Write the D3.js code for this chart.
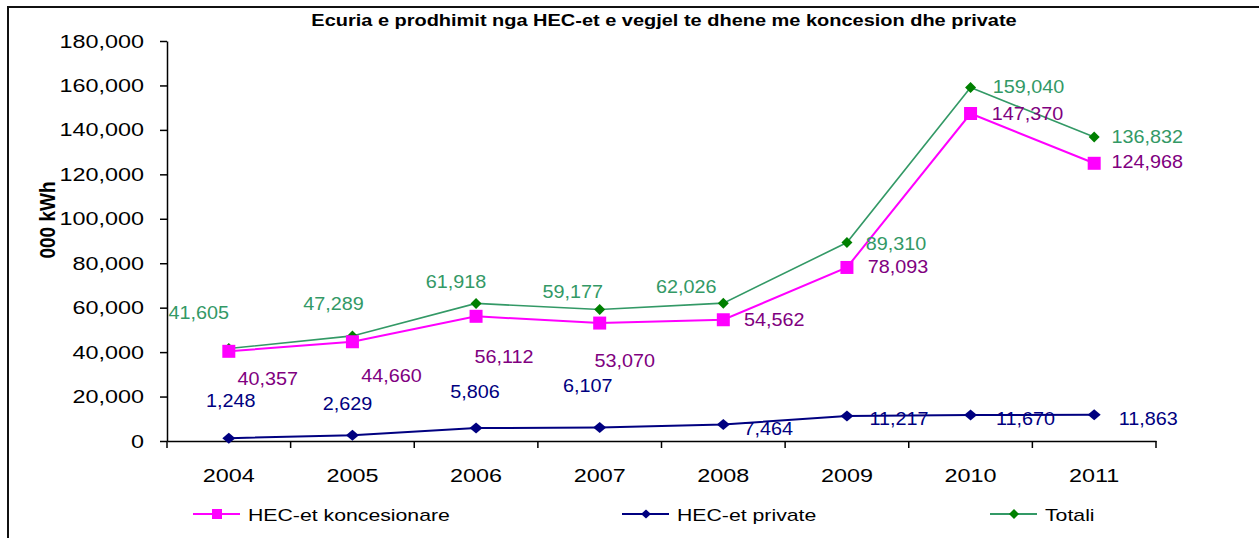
<!DOCTYPE html>
<html>
<head>
<meta charset="utf-8">
<script src="https://cdn.jsdelivr.net/npm/d3@7"></script>
<style>
  body { margin: 0; background: #fff; }
  svg { display: block; font-family: "Liberation Sans", Arial, sans-serif; }
</style>
</head>
<body>
<svg id="vis" width="1259" height="538"></svg>
<script>
// data
const years = ["2004", "2005", "2006", "2007", "2008", "2009", "2010", "2011"];
const koncesionare = [40357, 44660, 56112, 53070, 54562, 78093, 147370, 124968];
const privateHec = [1248, 2629, 5806, 6107, 7464, 11217, 11670, 11863];
const totali = [41605, 47289, 61918, 59177, 62026, 89310, 159040, 136832];
const seriesNames = ["HEC-et koncesionare", "HEC-et private", "Totali"];
const yTicks = [0, 20000, 40000, 60000, 80000, 100000, 120000, 140000, 160000, 180000];

// label offsets from the point (hand placed like in the original)
const konLabelOff = [[39, 34], [39, 40], [28, 47], [25, 44], [51, 6], [51, 6], [57, 6], [53, 5]];
const privLabelOff = [[2, -31], [-5, -25], [-1, -30], [-12, -35], [45, 11], [52, 9], [55, 10], [54, 10]];
const totLabelOff = [[-30, -30], [-19, -26], [-20, -15], [-27, -11], [-37, -10], [49, 7], [58, 5], [53, 6]];

const svg = d3.select("#vis");
const fmt = d3.format(",");

// scales
const x = d3.scaleBand().domain(years).range([167, 1156]).padding(0);
const y = d3.scaleLinear().domain([0, 180000]).range([441, 41]);
const cx = d => x(d) + x.bandwidth() / 2;

// outer frame
svg.append("rect")
  .attr("x", 8).attr("y", 7)
  .attr("width", 1300).attr("height", 600)
  .attr("fill", "none")
  .attr("stroke", "#111")
  .attr("stroke-width", 2);

// title
const title = svg.append("text")
  .attr("font-weight", "bold")
  .attr("font-size", 17)
  .attr("text-anchor", "middle")
  .text("Ecuria e prodhimit nga HEC-et e vegjel te dhene me koncesion dhe private");
const tw = title.node().getComputedTextLength();
title.attr("transform", `translate(664,26) scale(${706 / tw},1)`);

// y axis
const yAxis = svg.append("g")
  .attr("transform", "translate(167,0)")
  .call(d3.axisLeft(y).tickValues(yTicks).tickFormat(fmt).tickSize(7).tickSizeOuter(0));
yAxis.select(".domain").attr("stroke", "#000").attr("stroke-width", 1.5);
yAxis.selectAll(".tick line").attr("stroke", "#000").attr("stroke-width", 1.5);
yAxis.selectAll(".tick text")
  .attr("x", 0)
  .attr("font-size", 19)
  .attr("fill", "#000")
  .attr("font-family", "'Liberation Sans', Arial, sans-serif")
  .attr("transform", "translate(-23,0) scale(1.23,1)");

// y axis title
svg.append("text")
  .attr("transform", "translate(55,220) scale(1.2,1) rotate(-90)")
  .attr("text-anchor", "middle")
  .attr("font-weight", "bold")
  .attr("font-size", 19)
  .text("000 kWh");

// x axis
const xAxis = svg.append("g")
  .attr("transform", "translate(0,441)")
  .call(d3.axisBottom(x).tickSize(0).tickSizeOuter(0));
xAxis.select(".domain").attr("stroke", "#000").attr("stroke-width", 1.5);
xAxis.selectAll(".tick text")
  .attr("y", 0).attr("dy", 0)
  .attr("font-size", 19)
  .attr("fill", "#000")
  .attr("font-family", "'Liberation Sans', Arial, sans-serif")
  .attr("transform", "translate(0,41) scale(1.23,1)");

// boundary ticks
const bounds = years.map(d => x(d)).concat([x.range()[1]]);
svg.append("g").selectAll("line")
  .data(bounds)
  .join("line")
  .attr("x1", d => d).attr("x2", d => d)
  .attr("y1", 441).attr("y2", 448)
  .attr("stroke", "#000").attr("stroke-width", 1.5);

// marker shapes
const diamond = (w, h) => `M0,${-h}L${w},0L0,${h}L${-w},0Z`;
const square = (w, h) => `M${-w},${-h}H${w}V${h}H${-w}Z`;

const series = [
  { values: totali, line: "#339966", lw: 1.6, mark: "#008000", shape: diamond(5.5, 5.5), lab: "#339966", off: totLabelOff },
  { values: koncesionare, line: "#ff00ff", lw: 2, mark: "#ff00ff", shape: square(6.5, 6.5), lab: "#800080", off: konLabelOff },
  { values: privateHec, line: "#000080", lw: 2, mark: "#000080", shape: diamond(6.5, 5.5), lab: "#000080", off: privLabelOff }
];

const line = d3.line().x((d, i) => cx(years[i])).y(d => y(d));

series.forEach(s => {
  svg.append("path")
    .datum(s.values)
    .attr("d", line)
    .attr("fill", "none")
    .attr("stroke", s.line)
    .attr("stroke-width", s.lw);

  svg.append("g").selectAll("path")
    .data(s.values)
    .join("path")
    .attr("d", s.shape)
    .attr("transform", (d, i) => `translate(${cx(years[i])},${y(d)})`)
    .attr("fill", s.mark);
});

// data labels
series.forEach(s => {
  svg.append("g").selectAll("text")
    .data(s.values)
    .join("text")
    .attr("transform", (d, i) => `translate(${cx(years[i]) + s.off[i][0]},${y(d) + s.off[i][1]}) scale(1.1,1)`)
    .attr("text-anchor", "middle")
    .attr("font-size", 18)
    .attr("fill", s.lab)
    .text(d => fmt(d));
});

// legend
const legendItems = [
  { name: seriesNames[0], x: 193, color: "#ff00ff", mark: "#ff00ff", shape: square(5, 5) },
  { name: seriesNames[1], x: 622, color: "#000080", mark: "#000080", shape: diamond(5, 4.5) },
  { name: seriesNames[2], x: 990, color: "#339966", mark: "#008000", shape: diamond(5, 5) }
];
const lg = svg.append("g").selectAll("g")
  .data(legendItems)
  .join("g")
  .attr("transform", d => `translate(${d.x},514)`);
lg.append("line")
  .attr("x1", 0).attr("x2", 47)
  .attr("stroke", d => d.color).attr("stroke-width", 2);
lg.append("path")
  .attr("d", d => d.shape)
  .attr("transform", "translate(24,0)")
  .attr("fill", d => d.mark);
lg.append("text")
  .attr("transform", "translate(55,7) scale(1.25,1)")
  .attr("font-size", 17)
  .attr("fill", "#000")
  .text(d => d.name);
</script>
</body>
</html>
